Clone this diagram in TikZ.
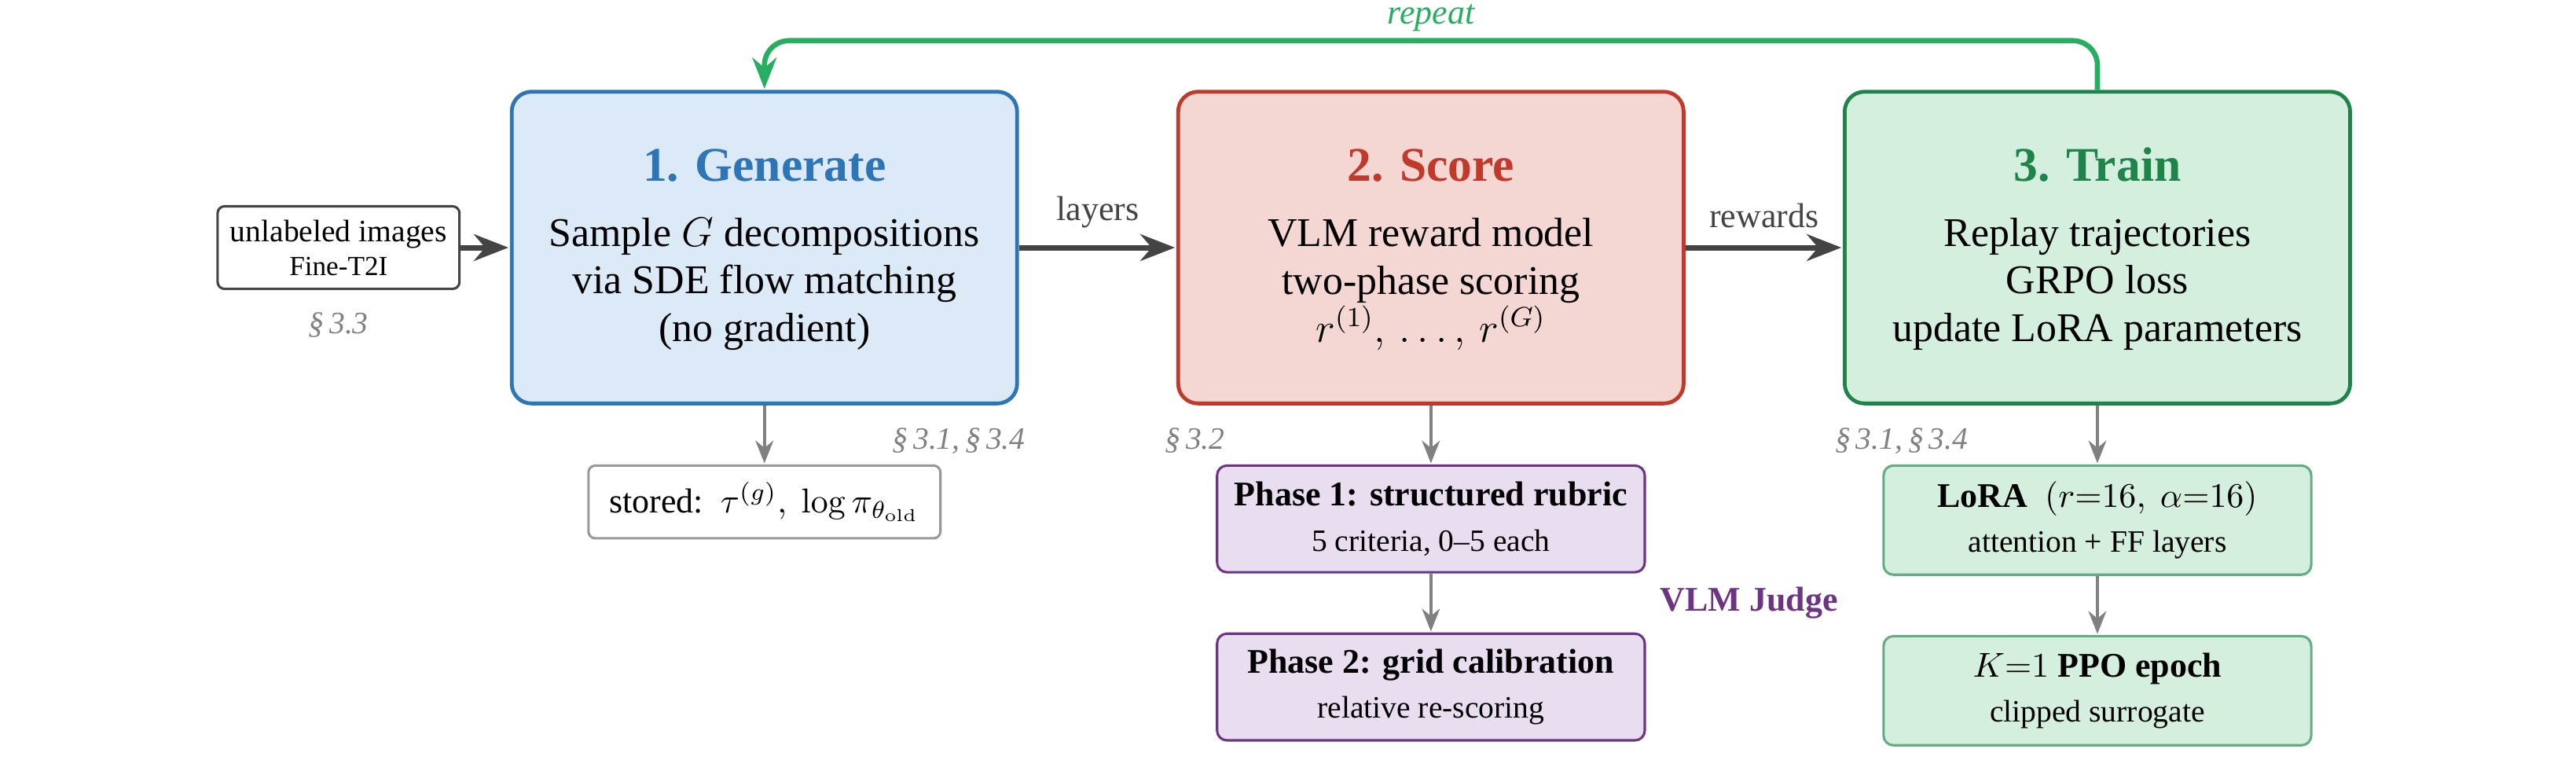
\documentclass[tikz,border=0pt]{standalone}
\usepackage[no-math]{fontspec}
\setmainfont{Liberation Serif}
\usetikzlibrary{arrows.meta}
\usetikzlibrary{calc,positioning}

\definecolor{genblue}{HTML}{2E75B6}
\definecolor{genfill}{HTML}{DCE9F6}
\definecolor{scorered}{HTML}{C0392B}
\definecolor{scorefill}{HTML}{F4D6D2}
\definecolor{traingreen}{HTML}{1E8449}
\definecolor{trainfill}{HTML}{D5EFDF}
\definecolor{trainline}{HTML}{62AD82}
\definecolor{judgepurple}{HTML}{6C3483}
\definecolor{judgefill}{HTML}{E9DDF0}
\definecolor{loopgreen}{HTML}{27AE60}
\definecolor{flowgray}{HTML}{444444}
\definecolor{sidegray}{HTML}{808080}
\definecolor{storedgray}{HTML}{999999}

\newcommand{\stagetitle}[2]{{\fontsize{14}{17}\selectfont\bfseries\color{#1}\rule{0pt}{10.5pt}#2}\\[5pt]}
\newcommand{\subline}[1]{{\fontsize{9}{11}\selectfont #1}}

\tikzset{
    stagebox/.style={draw, rounded corners=0.2cm, line width=1.1pt, align=center,
        minimum width=5.14cm, minimum height=3.17cm, font=\fontsize{11.8}{13.8}\selectfont},
    subbox/.style={draw, rounded corners=0.1cm, line width=0.7pt, align=center,
        minimum width=4.35cm, font=\fontsize{10}{12}\selectfont},
    flow/.style={-{Stealth[length=10pt,width=7.7pt]}, shorten >=0.4pt, line width=1.6pt, color=flowgray},
    sideflow/.style={-{Stealth[length=6.6pt,width=5.2pt]}, shorten >=0.3pt, line width=0.8pt, color=sidegray},
    loopflow/.style={-{Stealth[length=9pt,width=7pt]}, shorten >=0.3pt, line width=1.5pt, color=loopgreen, rounded corners=0.25cm},
    flowlabel/.style={font=\fontsize{10}{12}\selectfont, inner sep=4.9pt},
    seclabel/.style={font=\fontsize{9}{11}\selectfont\itshape, text=sidegray, inner sep=0pt},
}

\begin{document}
\begin{tikzpicture}[auto]

    \path[use as bounding box] (-7.775,2.518) rectangle (18.425,-5.204);

    \node[stagebox, draw=genblue, fill=genfill] (generate) {\stagetitle{genblue}{1. Generate}Sample $G$ decompositions\\via SDE flow matching\\(no gradient)};
    \node[stagebox, draw=scorered, fill=scorefill] (score) [right=1.6cm of generate] {\stagetitle{scorered}{2. Score}VLM reward model\\two-phase scoring\\$r^{(1)},\,\ldots,\,r^{(G)}$};
    \node[stagebox, draw=traingreen, fill=trainfill] (train) [right=1.6cm of score] {\stagetitle{traingreen}{3. Train}Replay trajectories\\GRPO loss\\update LoRA parameters};

    \node[draw=flowgray, rounded corners=0.07cm, line width=0.7pt, align=center, minimum width=2.46cm, minimum height=0.84cm,
        font=\fontsize{9}{9.8}\selectfont] (input) [left=0.5cm of generate] {unlabeled images\\{\fontsize{8}{9.8}\selectfont Fine-T2I}};
    \node[draw=storedgray, rounded corners=0.07cm, line width=0.7pt, minimum width=3.58cm, minimum height=0.74cm,
        font=\fontsize{10}{12}\selectfont] (stored) [below=0.6cm of generate] {stored:\ \ $\tau^{(g)},\ \log\pi_{\theta_{\mathrm{old}}}$};

    \node[subbox, draw=judgepurple, fill=judgefill, minimum height=1.085cm] (phase-1) [below=0.6cm of score] {\textbf{Phase 1: structured rubric}\\[1pt]\subline{5 criteria, 0--5 each}};
    \node[subbox, draw=judgepurple, fill=judgefill, minimum height=1.085cm] (phase-2) [below=0.6cm of phase-1] {\textbf{Phase 2: grid calibration}\\[1pt]\subline{relative re-scoring}};
    \node[subbox, draw=trainline, fill=trainfill, minimum height=1.11cm] (lora) [below=0.6cm of train] {\textbf{LoRA}\ \ $(r{=}16,\ \alpha{=}16)$\\[1pt]\subline{attention + FF layers}};
    \node[subbox, draw=trainline, fill=trainfill, minimum height=1.11cm] (epoch) [below=0.6cm of lora] {$K{=}1$ \textbf{PPO epoch}\\[1pt]\subline{clipped surrogate}};

    \coordinate (phase-gap) at ($(phase-1.south east)!0.5!(phase-2.north east)$);
    \node[right=0.02cm of phase-gap, font=\fontsize{10}{12}\selectfont\bfseries, text=judgepurple] (judge) {VLM Judge};

    \node[seclabel, below=0.22cm of input] (sec-input) {\S\,3.3};
    \node[seclabel, below left=0.22cm and -0.07cm of generate.south east] (sec-generate) {\S\,3.1,\kern0.18em\S\,3.4};
    \node[seclabel, below right=0.22cm and -0.12cm of score.south west] (sec-score) {\S\,3.2};
    \node[seclabel, below right=0.22cm and -0.085cm of train.south west] (sec-train) {\S\,3.1,\kern0.18em\S\,3.4};

    \path[flow] (input) edge (generate);
    \path[flow] (generate) edge node[flowlabel] {layers} (score);
    \path[flow] (score) edge node[flowlabel] {rewards} (train);

    \path[sideflow] (generate.south) edge (stored.north);
    \path[sideflow] (score.south) edge (phase-1.north);
    \path[sideflow] (phase-1.south) edge (phase-2.north);
    \path[sideflow] (train.south) edge (lora.north);
    \path[sideflow] (lora.south) edge (epoch.north);

    \coordinate[above=0.5cm of score.north] (repeat-bar);
    \draw[loopflow] (train.north) |- (repeat-bar) -| (generate.north);
    \node[above=0cm of repeat-bar, inner sep=2.4pt, font=\fontsize{10}{12}\selectfont\itshape, text=loopgreen] (repeat) {repeat};

\end{tikzpicture}
\end{document}
